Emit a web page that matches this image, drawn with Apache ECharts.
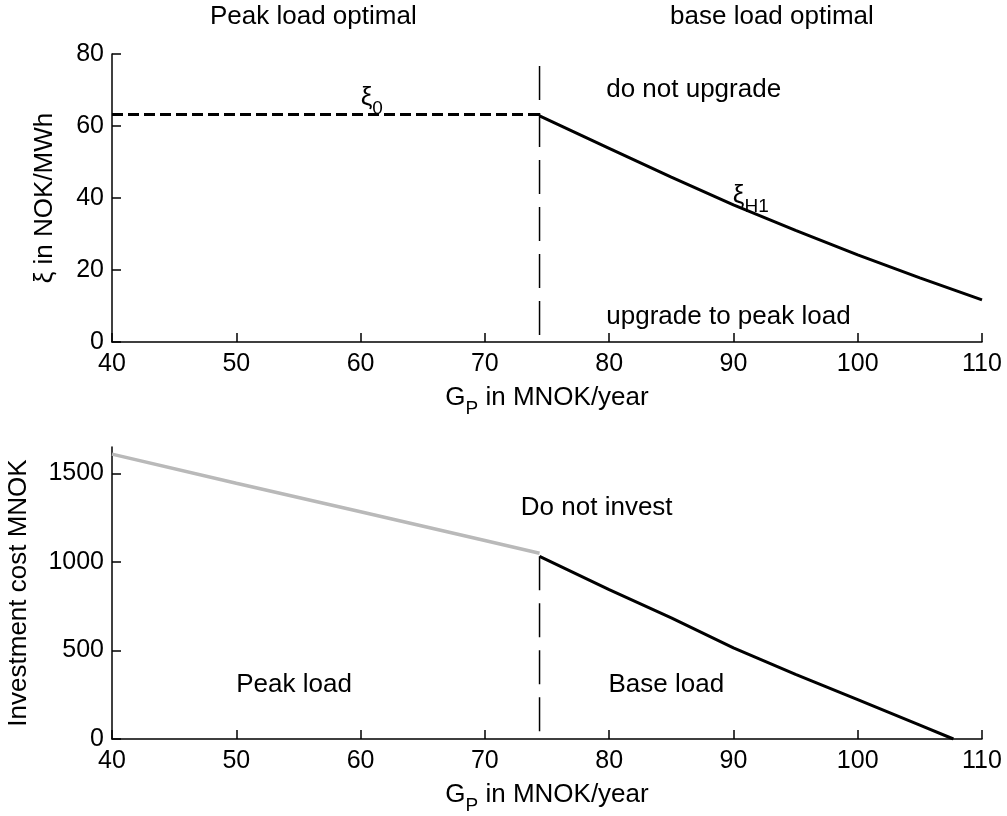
<!DOCTYPE html>
<html lang="en">
<head>
<meta charset="utf-8">
<title>Peak load / base load</title>
<script src="https://cdn.jsdelivr.net/npm/echarts@6/dist/echarts.min.js"></script>
<style>html,body{margin:0;padding:0;background:#fff;} #main{width:1007px;height:816px;}</style>
</head>
<body>
<div id="main"></div>
<script type="text/javascript">
// upper panel: xi threshold in NOK/MWh
var xi0X = [40, 74.4];
var xi0Y = [63.2, 63.2];
var xiH1X = [74.4, 80, 85, 90, 95, 100, 105, 110];
var xiH1Y = [62.8, 53.8, 45.8, 38.1, 31.0, 24.2, 17.8, 11.7];
var splitTopY = [76.7, 0];
// lower panel: investment cost in MNOK
var peakX = [40, 50, 60, 70, 74.4];
var peakY = [1610, 1445, 1284, 1122, 1050];
var baseX = [74.4, 80, 85, 90, 95, 100, 105, 107.7];
var baseY = [1032, 844, 684, 515, 365, 223, 78, 0];
var splitBottomY = [1032, 0];
var splitX = 74.4;
// ticks
var xTicks = [40, 50, 60, 70, 80, 90, 100, 110];
var topTicks = [0, 20, 40, 60, 80];
var bottomTicks = [0, 500, 1000, 1500];
// annotations [x, y, text]
var topNotes = [
    [56.2, 90.3, 'Peak load optimal'],
    [93.1, 90.3, 'base load optimal'],
    [86.8, 70.0, 'do not upgrade'],
    [89.6, 7.0, 'upgrade to peak load'],
    [60.9, 67.8, '{b|ξ}{s|0}'],
    [91.4, 40.6, '{b|ξ}{s|H1}']
];
var bottomNotes = [
    [79.0, 1306, 'Do not invest'],
    [54.65, 307, 'Peak load'],
    [84.6, 307, 'Base load']
];

var font = 'Liberation Sans, Arial, Helvetica, sans-serif';
var rich = {
    b: {fontSize: 26, fontFamily: font, color: '#000', lineHeight: 28},
    s: {fontSize: 19, fontFamily: font, color: '#000', lineHeight: 19, padding: [21, 0, 0, 0]}
};

function zip(xs, ys) {
    return xs.map(function (x, i) { return [x, ys[i]]; });
}

function xAxis(gi) {
    return {
        type: 'value', gridIndex: gi, min: 40, max: 110, interval: 10,
        axisLine: {show: true, onZero: false, lineStyle: {color: '#000', width: 1.5}},
        axisTick: {show: true, inside: true, length: 9, customValues: xTicks, lineStyle: {color: '#000', width: 1.5}},
        axisLabel: {color: '#000', fontSize: 25, fontFamily: font, margin: 10, customValues: xTicks},
        splitLine: {show: false},
        name: '{b|G}{s|P}{b| in MNOK/year}',
        nameLocation: 'middle', nameGap: 37,
        nameTextStyle: {rich: rich}
    };
}

function yAxis(gi, max, ticks, name, gap) {
    return {
        type: 'value', gridIndex: gi, min: 0, max: max,
        axisLine: {show: true, lineStyle: {color: '#000', width: 1.5}},
        axisTick: {show: true, inside: true, length: 9, customValues: ticks, lineStyle: {color: '#000', width: 1.5}},
        axisLabel: {
            color: '#000', fontSize: 25, fontFamily: font, margin: 8, customValues: ticks,
            formatter: function (v) { return String(v); }
        },
        splitLine: {show: false},
        name: name, nameLocation: 'middle', nameGap: gap,
        nameTextStyle: {color: '#000', fontSize: 26, fontFamily: font}
    };
}

function line(gi, data, color, width, type) {
    return {
        type: 'line', xAxisIndex: gi, yAxisIndex: gi, data: data,
        showSymbol: false, symbol: 'none', silent: true,
        lineStyle: {color: color, width: width, type: type}
    };
}

function notes(gi, data) {
    return {
        type: 'scatter', xAxisIndex: gi, yAxisIndex: gi, data: data,
        symbolSize: 0, silent: true, clip: false, z: 10,
        itemStyle: {color: '#000', opacity: 1},
        label: {
            show: true, position: 'inside', color: '#000', opacity: 1,
            fontSize: 26, fontFamily: font,
            formatter: function (p) { return p.value[2]; },
            rich: rich
        }
    };
}

var myChart = echarts.init(document.getElementById('main'));

var option = {
    animation: false,
    backgroundColor: '#fff',
    grid: [
        {left: 112, top: 54, width: 870, height: 288, containLabel: false, outerBoundsMode: 'none'},
        {left: 112, top: 447, width: 870, height: 292, containLabel: false, outerBoundsMode: 'none'}
    ],
    xAxis: [xAxis(0), xAxis(1)],
    yAxis: [
        yAxis(0, 80, topTicks, 'ξ in NOK/MWh', 54),
        yAxis(1, 1650, bottomTicks, 'Investment cost MNOK', 80)
    ],
    series: [
        line(0, zip(xi0X, xi0Y), '#000', 3, [11, 5]),
        line(0, zip(xiH1X, xiH1Y), '#000', 3, 'solid'),
        line(0, zip([splitX, splitX], splitTopY), '#000', 1.5, [34, 13]),
        line(1, zip(peakX, peakY), '#b9b9b9', 3.5, 'solid'),
        line(1, zip(baseX, baseY), '#000', 3, 'solid'),
        line(1, zip([splitX, splitX], splitBottomY), '#000', 1.5, [34, 13]),
        notes(0, topNotes),
        notes(1, bottomNotes)
    ]
};

myChart.setOption(option);
</script>
</body>
</html>
